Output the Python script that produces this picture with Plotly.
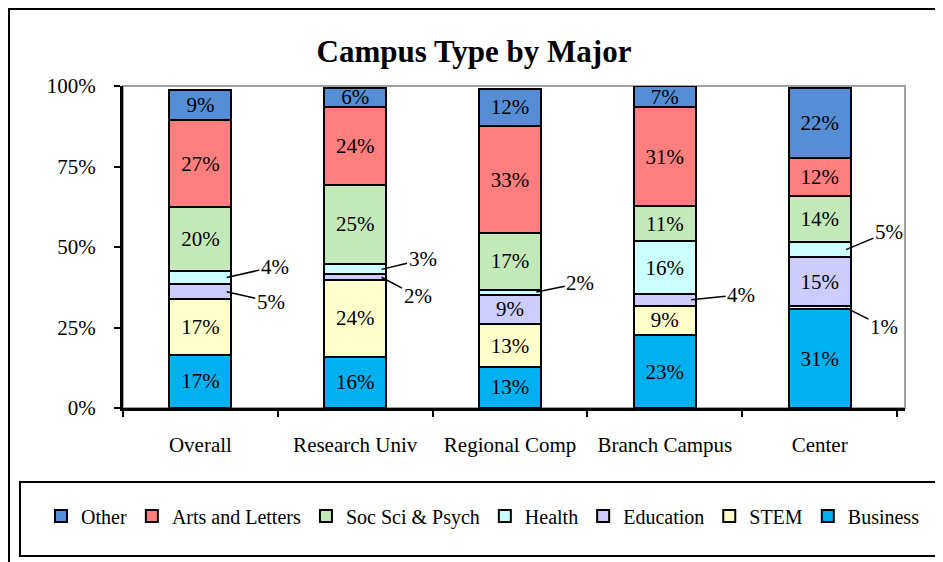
import plotly.graph_objects as go

# -----------------
# 1. Data (shares, in percent)
# -----------------
categories = ["Overall", "Research Univ", "Regional Comp", "Branch Campus", "Center"]

business = [16.6, 15.9, 12.8, 22.6, 30.6]
stem = [17.2, 23.8, 13.2, 9.2, 1.0]
education = [4.6, 1.8, 9.2, 3.6, 15.3]
health = [4.2, 3.1, 1.6, 16.4, 4.6]
soc_sci = [19.9, 24.8, 17.4, 10.8, 14.2]
arts = [26.8, 24.1, 33.4, 30.8, 11.8]
other = [9.4, 5.9, 11.6, 6.6, 22.0]

y_ticks = [0, 0.25, 0.5, 0.75, 1.0]
y_tick_labels = ["0%", "25%", "50%", "75%", "100%"]

# stacking order, bottom to top
series = [
    ("Business", business, "#00B0F0"),
    ("STEM", stem, "#FFFFCC"),
    ("Education", education, "#CCCCFF"),
    ("Health", health, "#CCFFFF"),
    ("Soc Sci & Psych", soc_sci, "#C3E9B9"),
    ("Arts and Letters", arts, "#FF7F7F"),
    ("Other", other, "#558ED5"),
]

# thin segments labelled outside with a leader line: (series, category) -> text offset in px
callouts = {
    ("Health", 0): (48, -11),
    ("Education", 0): (44, 10),
    ("Health", 1): (41, -10),
    ("Education", 1): (36, 19),
    ("Health", 2): (44, -9),
    ("Education", 3): (50, -5),
    ("Health", 4): (43, -18),
    ("STEM", 4): (38, 19),
}

FONT = "Liberation Serif"

# -----------------
# 2. Figure
# -----------------
fig = go.Figure()
annotations = []
base = [0.0] * len(categories)

for name, vals, color in series:
    labels = []
    for i, v in enumerate(vals):
        if (name, i) in callouts:
            labels.append("")
            ax, ay = callouts[(name, i)]
            annotations.append(dict(
                x=i + 0.17, y=(base[i] + v / 2) / 100, xref="x", yref="y",
                text=f"{round(v)}%", showarrow=True, arrowhead=0,
                arrowwidth=1.5, arrowcolor="black", ax=ax, ay=ay, standoff=0,
                font=dict(family=FONT, size=21, color="black"),
            ))
        else:
            labels.append(f"{round(v)}%")
    fig.add_trace(go.Bar(
        x=categories,
        y=[v / 100 for v in vals],
        name=name,
        marker=dict(color=color, line=dict(color="black", width=2)),
        text=labels,
        textposition="inside",
        insidetextanchor="middle",
        textangle=0,
        constraintext="none",
        textfont=dict(family=FONT, size=21, color="black"),
        cliponaxis=False,
    ))
    base = [b + v for b, v in zip(base, vals)]

# the page body adds an 8px margin, so the figure is drawn 8px smaller and
# all page positions below are converted back to figure pixels
PAD = 8
W, H = 943 - PAD, 562 - PAD
L, R, T, B = 115, 38, 78, 154
pw, ph = W - L - R, H - T - B


def px_x(p):
    return (p - PAD - L) / pw


def px_y(p):
    return (H - B - (p - PAD)) / ph


shapes = [
    # outer chart border (runs past the right/bottom edge of the picture)
    dict(type="rect", xref="paper", yref="paper", x0=px_x(9), x1=px_x(990),
         y0=px_y(620), y1=px_y(9), line=dict(color="black", width=2), layer="below"),
    # plot area border (top / right are grey)
    dict(type="rect", xref="paper", yref="paper", x0=0, x1=1, y0=0, y1=1,
         line=dict(color="#A0A0A0", width=2), layer="below"),
    # legend box
    dict(type="rect", xref="paper", yref="paper", x0=px_x(20), x1=px_x(990),
         y0=px_y(556), y1=px_y(482), line=dict(color="black", width=2), layer="below"),
]

fig.update_layout(
    width=W, height=H,
    margin=dict(l=L, r=R, t=T, b=B),
    barmode="stack",
    bargap=0.6,
    paper_bgcolor="white",
    plot_bgcolor="white",
    font=dict(family=FONT, color="black"),
    title=dict(text="<b>Campus Type by Major</b>", x=(474 - PAD) / W, xanchor="center",
               y=1 - (51 - PAD) / H, yanchor="middle", yref="container",
               font=dict(family=FONT, size=31, color="black")),
    showlegend=True,
    legend=dict(orientation="h", traceorder="reversed", x=px_x(41), xanchor="left",
                y=px_y(516), yanchor="middle", bgcolor="rgba(0,0,0,0)",
                font=dict(family=FONT, size=20, color="black")),
    annotations=annotations,
    shapes=shapes,
)

fig.update_xaxes(
    showline=True, linecolor="black", linewidth=3,
    ticks="outside", tickson="boundaries", ticklen=6, tickwidth=2, tickcolor="black",
    tickfont=dict(family=FONT, size=21, color="black"),
    ticklabelstandoff=16,
    showgrid=False,
)
fig.update_yaxes(
    range=[0, 1], tickvals=y_ticks, ticktext=y_tick_labels,
    showline=True, linecolor="black", linewidth=3,
    ticks="outside", ticklen=6, tickwidth=2, tickcolor="black",
    tickfont=dict(family=FONT, size=21, color="black"),
    ticklabelstandoff=14,
    showgrid=False, zeroline=False,
)

fig.write_html("out.html")
